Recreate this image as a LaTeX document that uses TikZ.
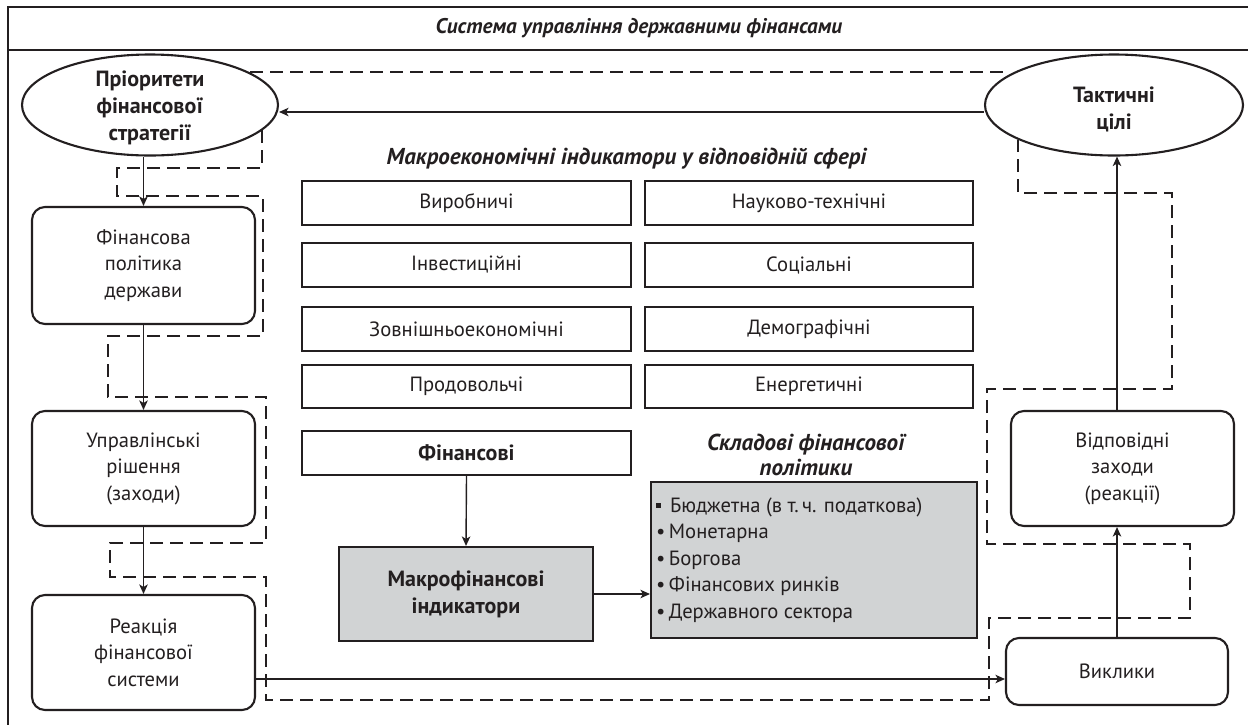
\documentclass[tikz,border=0pt]{standalone}
\usepackage{fontspec}
\setmainfont{PT Sans}
\usetikzlibrary{shapes.geometric,arrows.meta}
\definecolor{boxgray}{RGB}{209,211,212}
\definecolor{ink}{RGB}{35,31,32}
\begin{document}
\begin{tikzpicture}[x=1pt,y=-1pt, color=ink,
  txt/.style={font=\fontsize{20.6}{26.5}\selectfont},
  btxt/.style={font=\fontsize{22}{27}\selectfont\bfseries},
  bitxt/.style={font=\fontsize{23}{25}\selectfont\bfseries\itshape},
  frame/.style={line width=2.1pt},
  rbox/.style={draw, line width=2.1pt, rounded corners=13pt, align=center, inner sep=0pt, txt},
  sbox/.style={draw, line width=2.1pt, inner sep=0pt, align=center, txt},
  ell/.style={draw, ellipse, line width=2.1pt, fill=white, inner sep=0pt},
  arr/.style={line width=1.4pt, -{Stealth[length=9.5pt,width=8.5pt,inset=2.5pt]}},
  dline/.style={line width=1.7pt, dash pattern=on 13pt off 7pt},
]
\useasboundingbox (0,0) rectangle (1248,724);
% frame
\draw[frame] (8,730) -- (8,7) -- (1252,7);
\draw[frame] (8,50) -- (1252,50);
\node[font=\fontsize{21.2}{25}\selectfont\bfseries\itshape] (title) at (639,28) {Система управління державними фінансами};

% dashed loop
\draw[dline] (250,72) -- (1010,72);
\draw[dline] (262,130) -- (262,168) -- (117,168) -- (117,196) -- (263,196) -- (263,336)
  -- (108,336) -- (108,397) -- (266,397) -- (266,543) -- (110,543) -- (110,577)
  -- (266,577) -- (266,700) -- (989,700) -- (989,618) -- (1190,618) -- (1190,544)
  -- (987,544) -- (987,389) -- (1172,389) -- (1172,193) -- (1018,193) -- (1018,140);

% ellipses
\node[ell, minimum width=256pt, minimum height=101pt] (pri) at (150,105) {};
\node[btxt, align=center] (prit) at (150,108) {Пріоритети\\фінансової\\стратегії};
\node[ell, minimum width=258pt, minimum height=101pt] (tact) at (1114,105) {};
\node[btxt, align=center] (tactt) at (1114,109) {Тактичні\\цілі};

% left column
\node[rbox, minimum width=223pt, minimum height=117pt] (b1) at (143.5,265.5) {Фінансова\\політика\\держави};
\node[rbox, minimum width=223pt, minimum height=115pt] (b2) at (143.5,468.5) {Управлінські\\рішення\\(заходи)};
\node[rbox, minimum width=223pt, minimum height=115pt] (b3) at (143.5,652.5) {Реакція\\фінансової\\системи};

% right column
\node[rbox, minimum width=223pt, minimum height=115pt] (vid) at (1122.5,468.5) {Відповідні\\заходи\\(реакції)};
\node[rbox, minimum width=222pt, minimum height=67pt] (vyk) at (1117,671.5) {Виклики};

% middle
\node[bitxt] (mtitle) at (626.5,159) {Макроекономічні індикатори у відповідній сфері};
\node[sbox, minimum width=329pt, minimum height=44pt] (r1a) at (466.5,203) {Виробничі};
\node[sbox, minimum width=328pt, minimum height=44pt] (r1b) at (809,203) {Науково-технічні};
\node[sbox, minimum width=329pt, minimum height=44pt] (r2a) at (466.5,265) {Інвестиційні};
\node[sbox, minimum width=328pt, minimum height=44pt] (r2b) at (809,265) {Соціальні};
\node[sbox, minimum width=329pt, minimum height=44pt] (r3a) at (466.5,329) {Зовнішньоекономічні};
\node[sbox, minimum width=328pt, minimum height=44pt] (r3b) at (809,329) {Демографічні};
\node[sbox, minimum width=329pt, minimum height=43pt] (r4a) at (466.5,386.5) {Продовольчі};
\node[sbox, minimum width=328pt, minimum height=43pt] (r4b) at (809,386.5) {Енергетичні};
\node[sbox, btxt, minimum width=329pt, minimum height=44pt] (fin) at (466.5,453) {Фінансові};
\node[sbox, btxt, fill=boxgray, minimum width=254pt, minimum height=94pt] (macro) at (466,594) {Макрофінансові\\індикатори};
\node[bitxt, align=center] (stitle) at (806,455) {Складові фінансової\\політики};
\node[sbox, fill=boxgray, minimum width=326pt, minimum height=156pt] (list) at (814,560) {};
\node[txt, anchor=west, align=left, inner sep=0pt] (listt) at (656,560) {%
  \rule[0.22em]{0.22em}{0.22em}\hspace{0.45em}Бюджетна (в т.\,ч. податкова)\\
  \textbullet\,Монетарна\\
  \textbullet\,Боргова\\
  \textbullet\,Фінансових ринків\\
  \textbullet\,Державного сектора};

% arrows
\draw[arr] (b1.north |- pri.south) -- (b1.north);
\draw[arr] (b1.south) -- (b2.north);
\draw[arr] (b2.south) -- (b3.north);
\draw[arr] ([yshift=-26.5pt]b3.east) -- ([yshift=-26.5pt]b3.east -| vyk.west);
\draw[arr] (vyk.north) -- (vyk.north |- vid.south);
\draw[arr] (vid.north -| vyk.north) -- (vyk.north |- tact.south);
\draw[arr] ([yshift=-7pt]tact.west) -- ([yshift=-7pt]pri.east);
\draw[arr] (fin.south) -- (macro.north);
\draw[arr] (macro.east) -- (macro.east -| list.west);
\end{tikzpicture}
\end{document}
